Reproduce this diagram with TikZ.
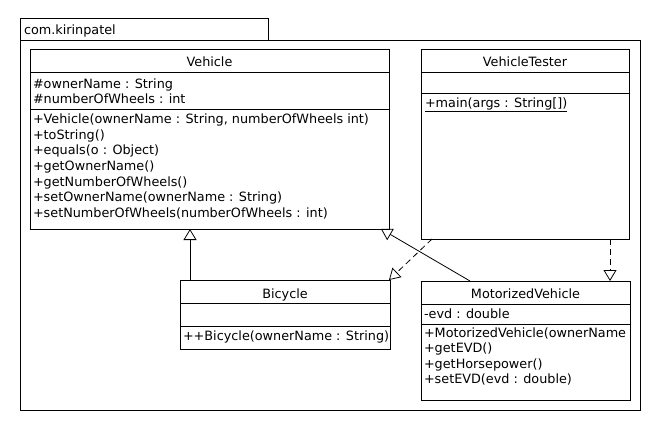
\documentclass[tikz,border=0pt]{standalone}
\usepackage{fontspec}
\setmainfont{DejaVu Sans}
\usetikzlibrary{arrows.meta}
\begin{document}
\begin{tikzpicture}[x=1pt,y=-1pt,
  every node/.style={inner sep=0pt, outer sep=0pt},
  box/.style={draw, line width=1pt, anchor=north west, rectangle},
  txt/.style={anchor=base west, font=\fontsize{12.8}{15}\selectfont},
  hdr/.style={anchor=base, font=\fontsize{12.8}{15}\selectfont},
  sep/.style={line width=1pt},
  gen/.style={-{Triangle[open,length=11pt,width=13pt]}, line width=0.8pt},
  dep/.style={gen, dash pattern=on 6pt off 4pt}]
\useasboundingbox[fill=white] (0,0) rectangle (660,430);
% package
\node[box, minimum width=248pt, minimum height=22pt] (pkgtab) at (20,19) {};
\node[box, minimum width=620pt, minimum height=369pt] (pkg) at (20,41) {};
\node[txt] (pkgname) at (24,34.5) {com.kirinpatel};
% Vehicle
\node[box, minimum width=359pt, minimum height=179pt] (veh) at (30,50) {};
\draw[sep] (veh.west |- 0,73) -- (veh.east |- 0,73);
\draw[sep] (veh.west |- 0,110) -- (veh.east |- 0,110);
\node[hdr] (vehn) at (209.5,66.5) {Vehicle};
\node[txt] (va1) at (33,89) {\#ownerName : String};
\node[txt] (va2) at (33,103.5) {\#numberOfWheels : int};
\node[txt] (vm1) at (33,124) {+Vehicle(ownerName : String, numberOfWheels int)};
\node[txt] (vm2) at (33,139.5) {+toString()};
\node[txt] (vm3) at (33,155) {+equals(o : Object)};
\node[txt] (vm4) at (33,170.5) {+getOwnerName()};
\node[txt] (vm5) at (33,186) {+getNumberOfWheels()};
\node[txt] (vm6) at (33,201.5) {+setOwnerName(ownerName : String)};
\node[txt] (vm7) at (33,217) {+setNumberOfWheels(numberOfWheels : int)};
% VehicleTester
\node[box, minimum width=208pt, minimum height=189pt] (vt) at (421,50) {};
\draw[sep] (vt.west |- 0,73) -- (vt.east |- 0,73);
\draw[sep] (vt.west |- 0,94) -- (vt.east |- 0,94);
\node[hdr] (vtn) at (525,66.5) {VehicleTester};
\node[txt] (vtm1) at (425,107.5) {\underline{+main(args : String[])}};
% Bicycle
\node[box, minimum width=210pt, minimum height=69pt] (bic) at (180,280) {};
\draw[sep] (bic.west |- 0,303) -- (bic.east |- 0,303);
\draw[sep] (bic.west |- 0,326) -- (bic.east |- 0,326);
\node[hdr] (bicn) at (285,298.5) {Bicycle};
\node[txt] (bicm1) at (183,340.5) {++Bicycle(ownerName : String)};
% MotorizedVehicle
\node[box, minimum width=209pt, minimum height=119pt] (mv) at (421,281) {};
\draw[sep] (mv.west |- 0,304) -- (mv.east |- 0,304);
\draw[sep] (mv.west |- 0,324) -- (mv.east |- 0,324);
\node[hdr] (mvn) at (525.5,298.5) {MotorizedVehicle};
\node[txt] (mva1) at (424,318) {-evd : double};
\begin{scope}
\clip (mv.north west) rectangle (mv.south east);
\node[txt] (mvm1) at (424,337) {+MotorizedVehicle(ownerName};
\end{scope}
\node[txt] (mvm2) at (424,352.5) {+getEVD()};
\node[txt] (mvm3) at (424,368) {+getHorsepower()};
\node[txt] (mvm4) at (424,383.5) {+setEVD(evd : double)};
% connectors
\draw[gen] ([xshift=10pt]bic.north west) -- ([xshift=10pt]bic.north west |- veh.south);
\draw[gen] ([xshift=49pt]mv.north west) -- ([xshift=-8pt]veh.south east);
\draw[dep] ([xshift=11pt]vt.south west) -- ([xshift=-1pt]bic.north east);
\draw[dep] ([xshift=-19pt]vt.south east) -- ([xshift=-19pt]vt.south east |- mv.north);
\end{tikzpicture}
\end{document}
